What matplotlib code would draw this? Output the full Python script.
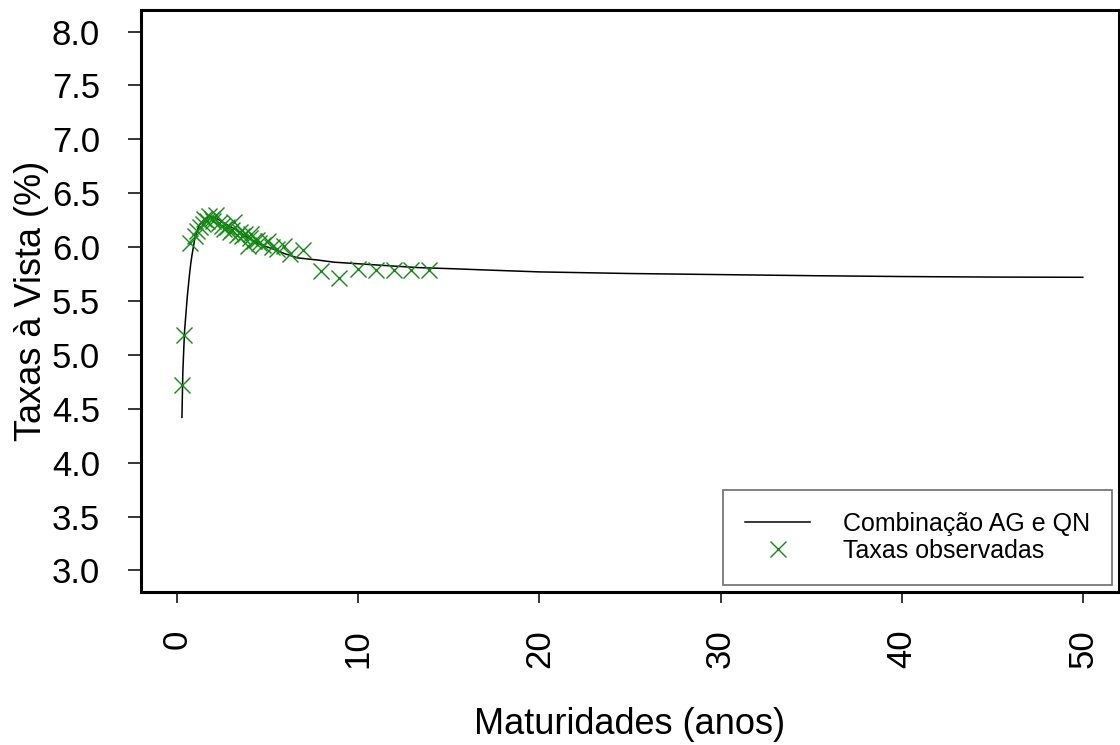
import numpy as np
import matplotlib
matplotlib.use('Agg')
import matplotlib.pyplot as plt

plt.rcParams['font.family'] = ['Liberation Sans', 'DejaVu Sans']

# %% DATA
# fitted spot-rate curve
curve_mat = [0.26, 0.31, 0.40, 0.48, 0.55, 0.62, 0.68, 0.75, 0.81, 0.90, 0.96,
             1.05, 1.14, 1.25, 1.41, 1.60, 1.78, 2.00, 2.24, 2.60, 3.16,
             3.60, 4.08, 4.50, 5.00, 5.50, 5.92, 6.65, 7.76, 8.67, 9.59,
             11.4, 13.3, 15.1, 17.5, 20.0, 25.0, 30.0, 35.0, 40.0, 45.0, 50.0]
curve_rate = [4.42, 4.84, 5.21, 5.38, 5.53, 5.65, 5.75, 5.85, 5.92, 6.01, 6.07,
              6.12, 6.17, 6.21, 6.24, 6.27, 6.28, 6.28, 6.26, 6.22, 6.17,
              6.12, 6.07, 6.03, 6.00, 5.97, 5.94, 5.90, 5.88, 5.86, 5.85,
              5.83, 5.81, 5.80, 5.785, 5.77, 5.755, 5.745, 5.735, 5.727, 5.722, 5.72]

# observed rates
obs_mat = [0.26, 0.40, 0.73, 0.96, 1.10, 1.25, 1.40, 1.50, 1.62, 1.78, 1.90,
           2.00, 2.15, 2.30, 2.45, 2.60, 2.75, 2.90, 3.00, 3.16, 3.30, 3.45,
           3.60, 3.75, 3.90, 4.00, 4.10, 4.25, 4.40, 4.50, 4.75, 5.00, 5.25,
           5.50, 5.92, 6.20, 6.93, 7.94, 8.95, 9.96, 10.97, 11.98, 12.90, 13.90]
obs_rate = [4.72, 5.18, 6.04, 6.10, 6.15, 6.19, 6.21, 6.26, 6.24, 6.29, 6.26,
            6.24, 6.30, 6.22, 6.20, 6.17, 6.19, 6.14, 6.16, 6.23, 6.11, 6.14,
            6.10, 6.12, 6.01, 6.08, 6.12, 6.06, 6.07, 6.04, 6.02, 6.06, 6.00,
            5.98, 6.01, 5.94, 5.97, 5.78, 5.71, 5.80, 5.79, 5.79, 5.79, 5.79]

# %% PLOTTING
fig = plt.figure(figsize=(11.2, 7.45), dpi=100)
ax = fig.add_axes([141/1120, 1-592/745, 978/1120, 582/745])

ax.plot(curve_mat, curve_rate, color='black', lw=1.1,
        label='Combinação AG e QN')
ax.plot(obs_mat, obs_rate, ls='none', marker='x', ms=12, mew=1.0,
        color='#108c10', label='Taxas observadas')

ax.set_xlim(-2, 52)
ax.set_ylim(2.8, 8.2)
ax.set_xticks([0, 10, 20, 30, 40, 50])
ax.set_yticks(np.arange(3.0, 8.01, 0.5))
ax.set_yticklabels([f'{v:.1f}' for v in np.arange(3.0, 8.01, 0.5)])

for s in ax.spines.values():
    s.set_linewidth(2.2)
ax.tick_params(axis='both', direction='out', width=1.1, labelsize=25)
ax.tick_params(axis='y', length=9.5, pad=20)
ax.tick_params(axis='x', length=8, pad=19, labelrotation=90)

ax.set_xlabel('Maturidades (anos)', fontsize=26, labelpad=28)
ax.set_ylabel('Taxas à Vista (%)', fontsize=26, labelpad=2)

leg = ax.legend(loc='lower right', bbox_to_anchor=(0.993, 0.012),
                bbox_transform=ax.transAxes, borderaxespad=0,
                fontsize=18, fancybox=False, framealpha=1,
                handlelength=2.6, handletextpad=1.3, borderpad=0.9,
                labelspacing=0.1)
leg.get_frame().set_edgecolor('#777777')
leg.get_frame().set_linewidth(1.3)

plt.savefig('out.png', dpi=100)
